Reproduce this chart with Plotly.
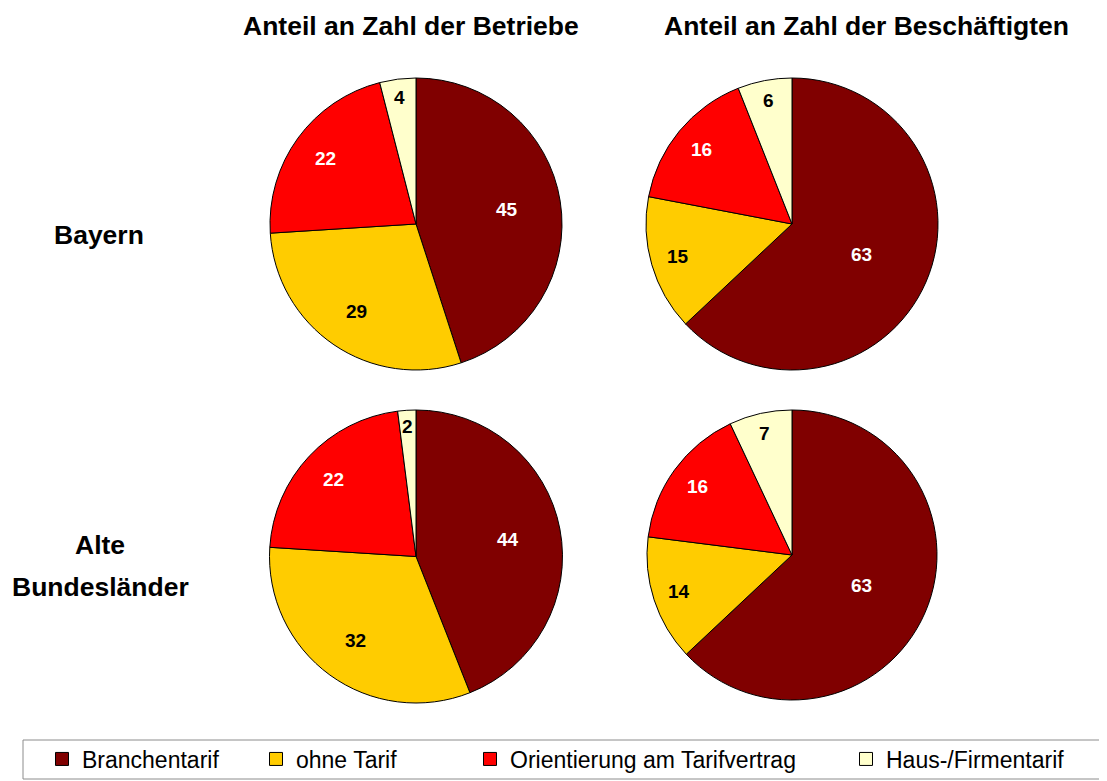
import math
import plotly.graph_objects as go

categories = ["Branchentarif", "ohne Tarif", "Orientierung am Tarifvertrag", "Haus-/Firmentarif"]
colors = ["#800000", "#FFCC00", "#FF0000", "#FFFFCC"]
label_colors = ["white", "black", "white", "black"]

bayern_betriebe = [45, 29, 22, 4]
bayern_beschaeftigte = [63, 15, 16, 6]
alte_bl_betriebe = [44, 32, 22, 2]
alte_bl_beschaeftigte = [63, 14, 16, 7]

col_titles = ["Anteil an Zahl der Betriebe", "Anteil an Zahl der Beschäftigten"]
row_titles = ["Bayern", ["Alte", "Bundesländer"]]

# page has an 8px body margin; figure sized to fit the 1107x781 window
OFF = 8
W, H = 1107 - OFF, 781 - OFF
FONT = "Liberation Sans, Arial, sans-serif"

def fx(px):
    return (px - OFF) / W

def fy(py):
    return 1 - (py - OFF) / H

# pie placements in window pixels: (center x, center y, radius)
placements = [(416, 224, 146), (792, 224, 146), (416, 556.5, 146.5), (792, 555, 145)]
series = [bayern_betriebe, bayern_beschaeftigte, alte_bl_betriebe, alte_bl_beschaeftigte]

fig = go.Figure()
annotations = []
for vals, (cx, cy, r) in zip(series, placements):
    fig.add_trace(go.Pie(
        labels=categories, values=vals,
        domain=dict(x=[fx(cx - r), fx(cx + r)], y=[fy(cy + r), fy(cy - r)]),
        sort=False, direction="clockwise", rotation=0,
        marker=dict(colors=colors, line=dict(color="black", width=1)),
        textinfo="none", showlegend=False, hoverinfo="label+value",
    ))
    # value labels: along each slice bisector, further out for narrower slices
    total = sum(vals)
    cum = 0
    for v, tc in zip(vals, label_colors):
        share = v / total
        theta = 2 * math.pi * (cum + share / 2)
        cum += share
        frac = 0.9 - 0.6 * share
        lx = cx + frac * r * math.sin(theta)
        ly = cy - frac * r * math.cos(theta)
        annotations.append(dict(
            text=str(v), x=fx(lx), y=fy(ly), xref="paper", yref="paper",
            showarrow=False, xanchor="center", yanchor="middle",
            font=dict(family=FONT, size=19, color=tc, weight="bold"),
        ))

# legend entries (one legend per category so they sit at Excel-like positions)
text_starts = [82, 296, 510, 886]
for i, (cat, col) in enumerate(zip(categories, colors)):
    lname = "legend" if i == 0 else f"legend{i+1}"
    fig.add_trace(go.Scatter(
        x=[None], y=[None], mode="markers", name=cat,
        marker=dict(symbol="square", size=13, color=col, line=dict(color="black", width=1)),
        legend=lname, showlegend=True, hoverinfo="skip",
    ))
    fig.update_layout(**{lname: dict(
        x=fx(text_starts[i] - 40), y=fy(759), xanchor="left", yanchor="middle",
        bgcolor="rgba(0,0,0,0)", borderwidth=0,
        font=dict(family=FONT, size=23, color="black"),
    )})

titles = [
    (col_titles[0], 411, 26),
    (col_titles[1], 866, 26),
    (row_titles[0], 99, 235),
    (row_titles[1][0], 100, 545),
    (row_titles[1][1], 100, 587),
]
for t, x, y in titles:
    annotations.append(dict(
        text=t, x=fx(x), y=fy(y), xref="paper", yref="paper", showarrow=False,
        xanchor="center", yanchor="middle",
        font=dict(family=FONT, size=26.5, color="black", weight="bold"),
    ))

fig.update_layout(
    width=W, height=H,
    margin=dict(l=0, r=0, t=0, b=0),
    paper_bgcolor="white", plot_bgcolor="white",
    xaxis=dict(visible=False), yaxis=dict(visible=False),
    annotations=annotations,
    shapes=[dict(type="rect", xref="paper", yref="paper",
                 x0=fx(23), x1=fx(1103), y0=fy(779), y1=fy(740),
                 line=dict(color="#8c8c8c", width=1), fillcolor="rgba(0,0,0,0)", layer="below")],
)

fig.write_html("out.html")
